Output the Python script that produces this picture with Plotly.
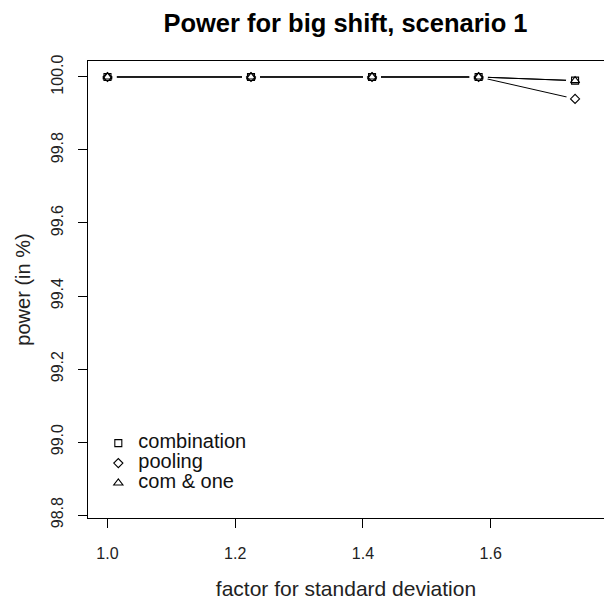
import plotly.graph_objects as go

# data
factor = [1.0, 1.2247, 1.4142, 1.5811, 1.7321]
combination = [100.0, 100.0, 100.0, 100.0, 99.99]
pooling = [100.0, 100.0, 100.0, 100.0, 99.94]
com_one = [100.0, 100.0, 100.0, 100.0, 99.99]
series_names = ["combination", "pooling", "com & one"]

series = [
    (series_names[0], combination, "square-open", 7),
    (series_names[1], pooling, "diamond-open", 7),
    (series_names[2], com_one, "triangle-up-open", 8),
]

FONT = "Liberation Sans, Arial, sans-serif"
fig = go.Figure()

# lines (R type="b" style: gaps around points)
for name, ys, sym, sz in series:
    fig.add_trace(go.Scatter(x=factor, y=ys, mode="lines",
                             line=dict(color="black", width=1),
                             showlegend=False, hoverinfo="skip"))
# white masks to create gaps around points
for name, ys, sym, sz in series:
    fig.add_trace(go.Scatter(x=factor, y=ys, mode="markers",
                             marker=dict(symbol="circle", size=18, color="white",
                                         line=dict(width=0)),
                             showlegend=False, hoverinfo="skip"))
# symbols
for name, ys, sym, sz in series:
    fig.add_trace(go.Scatter(x=factor, y=ys, mode="markers",
                             name='<span style="font-size:20px">' + name + '</span>',
                             marker=dict(symbol=sym, size=sz, color="black",
                                         line=dict(color="black", width=1.1)),
                             showlegend=True))

fig.update_layout(
    width=604, height=601,
    margin=dict(l=88, r=0, t=61, b=83),
    paper_bgcolor="white", plot_bgcolor="white",
    font=dict(family=FONT, size=16, color="#111"),
    title=dict(text="<b>Power for big shift, scenario 1</b>",
               font=dict(family=FONT, size=25.5, color="black"),
               x=0.572, xanchor="center", y=0.962, yanchor="middle"),
    legend=dict(x=0.02, y=0.1965, xanchor="left", yanchor="top",
                bgcolor="rgba(0,0,0,0)", font=dict(size=13, color="#111"),
                tracegroupgap=0, itemwidth=30),
    showlegend=True,
)
fig.update_xaxes(range=[0.9695, 1.7774], tickvals=[1.0, 1.2, 1.4, 1.6],
                 ticktext=["1.0", "1.2", "1.4", "1.6"],
                 showgrid=False, zeroline=False,
                 showline=True, linecolor="black", linewidth=1, mirror=True,
                 ticks="outside", ticklen=9, tickcolor="black",
                 ticklabelstandoff=12,
                 tickfont=dict(size=16, color="#222"),
                 title=dict(text="factor for standard deviation",
                            font=dict(size=21, color="#222"), standoff=20))
fig.update_yaxes(range=[98.7918, 100.0438],
                 tickvals=[98.8, 99.0, 99.2, 99.4, 99.6, 99.8, 100.0],
                 ticktext=["98.8", "99.0", "99.2", "99.4", "99.6", "99.8", "100.0"],
                 tickangle=-90,
                 showgrid=False, zeroline=False,
                 showline=True, linecolor="black", linewidth=1, mirror=False,
                 ticks="outside", ticklen=9, tickcolor="black",
                 ticklabelstandoff=9,
                 tickfont=dict(size=16, color="#222"),
                 title=dict(text="power (in %)",
                            font=dict(size=20, color="#222"), standoff=12))

fig.write_html("out.html", config={"displayModeBar": False},
               post_script="document.body.style.margin='0px';document.body.style.overflow='hidden';")
